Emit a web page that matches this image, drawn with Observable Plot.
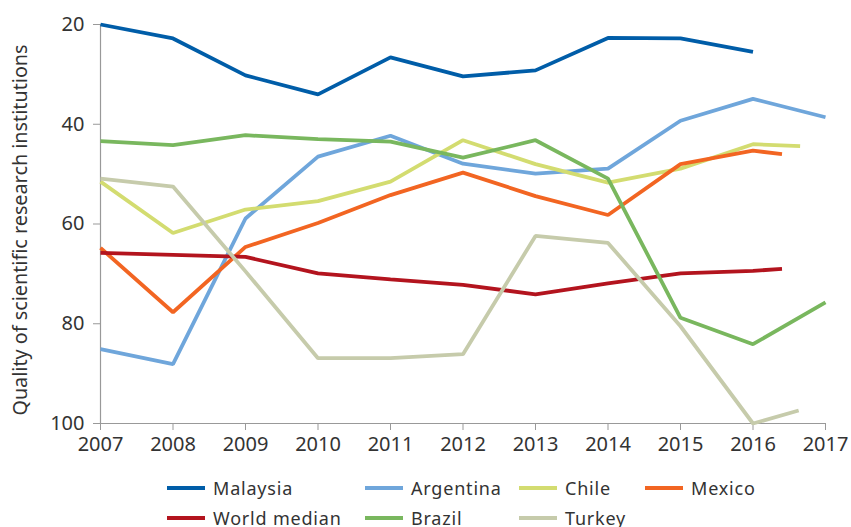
<!DOCTYPE html>
<html>
<head>
<meta charset="utf-8">
<script src="https://cdn.jsdelivr.net/npm/d3@7"></script>
<script src="https://cdn.jsdelivr.net/npm/@observablehq/plot@0.6"></script>
<style>
  body { margin: 0; background: #fff; font-family: "Noto Sans", sans-serif; color: #333; }
  #chart { width: 851px; }
  .legend {
    margin-left: 167px; margin-top: 8px;
    display: grid; grid-template-columns: 181px 137px 109px auto;
    column-gap: 17px; font-size: 18px; line-height: 30px; letter-spacing: 0.8px;
  }
  .item { display: flex; align-items: center; white-space: nowrap; }
  .sw { width: 38px; height: 4px; margin-right: 8px; flex: none; }
</style>
</head>
<body>
<div id="chart"></div>
<script>
const years = [2007, 2008, 2009, 2010, 2011, 2012, 2013, 2014, 2015, 2016];
const seriesNames = ["Malaysia", "Argentina", "Chile", "Mexico", "World median", "Brazil", "Turkey"];
const seriesColors = ["#005da8", "#6fa6db", "#d3dc70", "#f26522", "#b3141e", "#79b75e", "#c6cbab"];
// final (partial-year) point of each series; null = series ends at 2016
const seriesEndYears = [null, 2017, 2016.65, 2016.4, 2016.4, 2017, 2016.63];

const malaysia    = [20.0, 22.8, 30.2, 34.0, 26.6, 30.4, 29.2, 22.7, 22.8, 25.5];
const argentina   = [85.1, 88.1, 58.9, 46.5, 42.3, 47.9, 49.9, 48.9, 39.3, 34.9, 38.6];
const chile       = [51.5, 61.8, 57.1, 55.4, 51.5, 43.2, 48.0, 51.7, 48.9, 44.0, 44.4];
const mexico      = [64.8, 77.7, 64.6, 59.8, 54.2, 49.7, 54.4, 58.2, 48.0, 45.3, 46.0];
const worldMedian = [65.8, 66.2, 66.6, 69.9, 71.1, 72.2, 74.1, 71.9, 69.9, 69.4, 69.0];
const brazil      = [43.4, 44.2, 42.2, 43.0, 43.5, 46.7, 43.2, 50.9, 78.8, 84.1, 75.7];
const turkey      = [50.9, 52.5, 69.5, 86.9, 86.9, 86.1, 62.4, 63.8, 80.5, 100.0, 97.4];

const yTicks = [20, 40, 60, 80, 100];
const xTicks = [2007, 2008, 2009, 2010, 2011, 2012, 2013, 2014, 2015, 2016, 2017];
const yTitle = "Quality of scientific research institutions";

const seriesValues = [malaysia, argentina, chile, mexico, worldMedian, brazil, turkey];
const rows = [];
seriesNames.forEach((name, i) => {
  const vals = seriesValues[i];
  const yrs = seriesEndYears[i] == null ? years : [...years, seriesEndYears[i]];
  vals.forEach((v, j) => rows.push({series: name, year: yrs[j], value: v}));
});

const plot = Plot.plot({
  width: 851,
  height: 465,
  marginLeft: 100,
  marginRight: 26,
  marginTop: 24,
  marginBottom: 42,
  style: {fontFamily: "Noto Sans, sans-serif", fontSize: "20px", color: "#333", background: "#fff"},
  x: {domain: [2007, 2017]},
  y: {domain: [20, 100], reverse: true},
  color: {domain: seriesNames, range: seriesColors},
  marks: [
    Plot.axisX({ticks: xTicks, tickFormat: d => String(d), tickSize: 7, tickPadding: 6, fontSize: 20, stroke: "#999", fill: "#333", label: null, style: {letterSpacing: "1.2px"}}),
    Plot.axisY({ticks: yTicks, tickSize: 7, tickPadding: 9, fontSize: 20, stroke: "#999", fill: "#333", label: null, style: {letterSpacing: "1.2px"}}),
    Plot.text([yTitle], {text: d => d, frameAnchor: "left", dx: -80, dy: 6, rotate: -90, textAnchor: "middle", lineAnchor: "middle", fontSize: 19.8, fill: "#333", style: {letterSpacing: "0.5px"}}),
    Plot.ruleX([2007], {stroke: "#999", strokeWidth: 1.2}),
    Plot.ruleY([100], {stroke: "#999", strokeWidth: 1.2}),
    Plot.line(rows, {x: "year", y: "value", z: "series", stroke: "series", strokeWidth: 3.8, strokeLinejoin: "miter", strokeLinecap: "butt"})
  ]
});
document.getElementById("chart").appendChild(plot);

const legend = document.createElement("div");
legend.className = "legend";
seriesNames.forEach((name, i) => {
  const it = document.createElement("div");
  it.className = "item";
  const sw = document.createElement("span");
  sw.className = "sw";
  sw.style.background = seriesColors[i];
  it.appendChild(sw);
  it.appendChild(document.createTextNode(name));
  legend.appendChild(it);
});
document.getElementById("chart").appendChild(legend);
</script>
</body>
</html>
